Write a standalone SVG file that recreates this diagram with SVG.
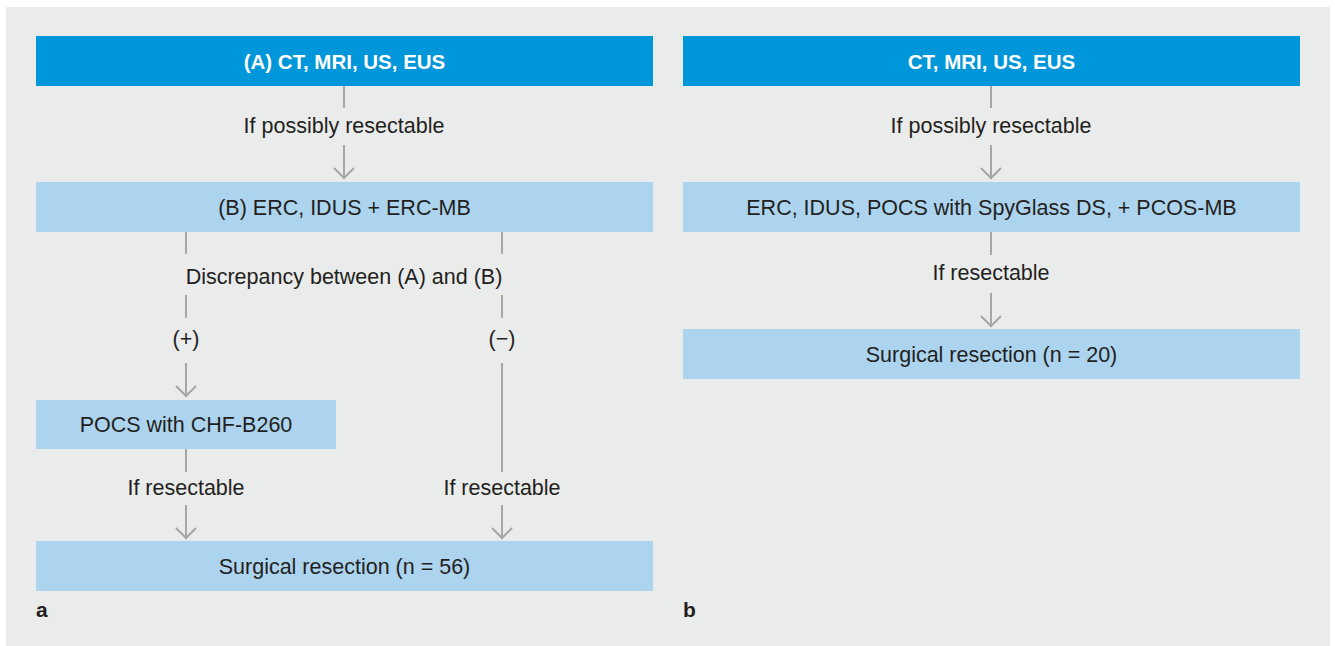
<svg xmlns="http://www.w3.org/2000/svg" width="1335" height="646" viewBox="0 0 1335 646">
<style>
.bg{fill:#ffffff}
.panel{fill:#eaebeb}
.dark{fill:#0096da}
.light{fill:#acd4ef}
.t{font-family:"Liberation Sans",Arial,sans-serif;font-size:21.5px;fill:#231f20;text-anchor:middle}
.tw{font-family:"Liberation Sans",Arial,sans-serif;font-size:20.5px;font-weight:bold;fill:#ffffff;text-anchor:middle}
.lab{font-family:"Liberation Sans",Arial,sans-serif;font-size:21px;font-weight:bold;fill:#231f20}
.c line{stroke:#a6a6a6;stroke-width:2;fill:none}
.c polyline{stroke:#a6a6a6;stroke-width:2;fill:none}
</style>
<rect class="bg" x="0" y="0" width="1335" height="646"/>
<rect class="panel" x="6" y="7" width="1324" height="639"/>

<g id="nodeA">
<rect class="dark" x="36" y="36" width="617" height="50"/>
<text class="tw" x="344.5" y="68.5">(A) CT, MRI, US, EUS</text>
</g>
<g id="nodeB">
<rect class="light" x="36" y="182" width="617" height="50"/>
<text class="t" x="344.5" y="214.5">(B) ERC, IDUS + ERC-MB</text>
</g>
<g id="nodePOCS">
<rect class="light" x="36" y="400" width="300" height="49"/>
<text class="t" x="186" y="432">POCS with CHF-B260</text>
</g>
<g id="nodeSurgA">
<rect class="light" x="36" y="541" width="617" height="50"/>
<text class="t" x="344.5" y="573.5">Surgical resection (n = 56)</text>
</g>
<g id="nodeR1">
<rect class="dark" x="683" y="36" width="617" height="50"/>
<text class="tw" x="991.5" y="68.5">CT, MRI, US, EUS</text>
</g>
<g id="nodeR2">
<rect class="light" x="683" y="182" width="617" height="50"/>
<text class="t" x="991.5" y="214.5">ERC, IDUS, POCS with SpyGlass DS, + PCOS-MB</text>
</g>
<g id="nodeR3">
<rect class="light" x="683" y="329" width="617" height="50"/>
<text class="t" x="991.5" y="361.5">Surgical resection (n = 20)</text>
</g>

<g id="connectors" class="c">
<line x1="344" y1="86" x2="344" y2="108"/>
<line x1="344" y1="145" x2="344" y2="179"/>
<polyline points="334,168 344,178 354,168"/>

<line x1="186" y1="232" x2="186" y2="254"/>
<line x1="502" y1="232" x2="502" y2="254"/>
<line x1="186" y1="295" x2="186" y2="318"/>
<line x1="502" y1="295" x2="502" y2="318"/>
<line x1="186" y1="363" x2="186" y2="397"/>
<polyline points="176,386 186,396 196,386"/>
<line x1="502" y1="363" x2="502" y2="472"/>

<line x1="186" y1="449" x2="186" y2="472"/>
<line x1="186" y1="505" x2="186" y2="539"/>
<polyline points="176,528 186,538 196,528"/>
<line x1="502" y1="505" x2="502" y2="539"/>
<polyline points="492,528 502,538 512,528"/>

<line x1="991" y1="86" x2="991" y2="108"/>
<line x1="991" y1="145" x2="991" y2="179"/>
<polyline points="981,168 991,178 1001,168"/>
<line x1="991" y1="232" x2="991" y2="255"/>
<line x1="991" y1="293" x2="991" y2="327"/>
<polyline points="981,316 991,326 1001,316"/>
</g>

<g id="labels">
<text class="t" x="344" y="133">If possibly resectable</text>
<text class="t" x="344" y="283.5">Discrepancy between (A) and (B)</text>
<text class="t" x="186" y="346">(+)</text>
<text class="t" x="502" y="346">(−)</text>
<text class="t" x="186" y="495">If resectable</text>
<text class="t" x="502" y="495">If resectable</text>
<text class="t" x="991" y="133">If possibly resectable</text>
<text class="t" x="991" y="280">If resectable</text>
<text class="lab" x="36" y="617">a</text>
<text class="lab" x="683" y="617">b</text>
</g>
</svg>
